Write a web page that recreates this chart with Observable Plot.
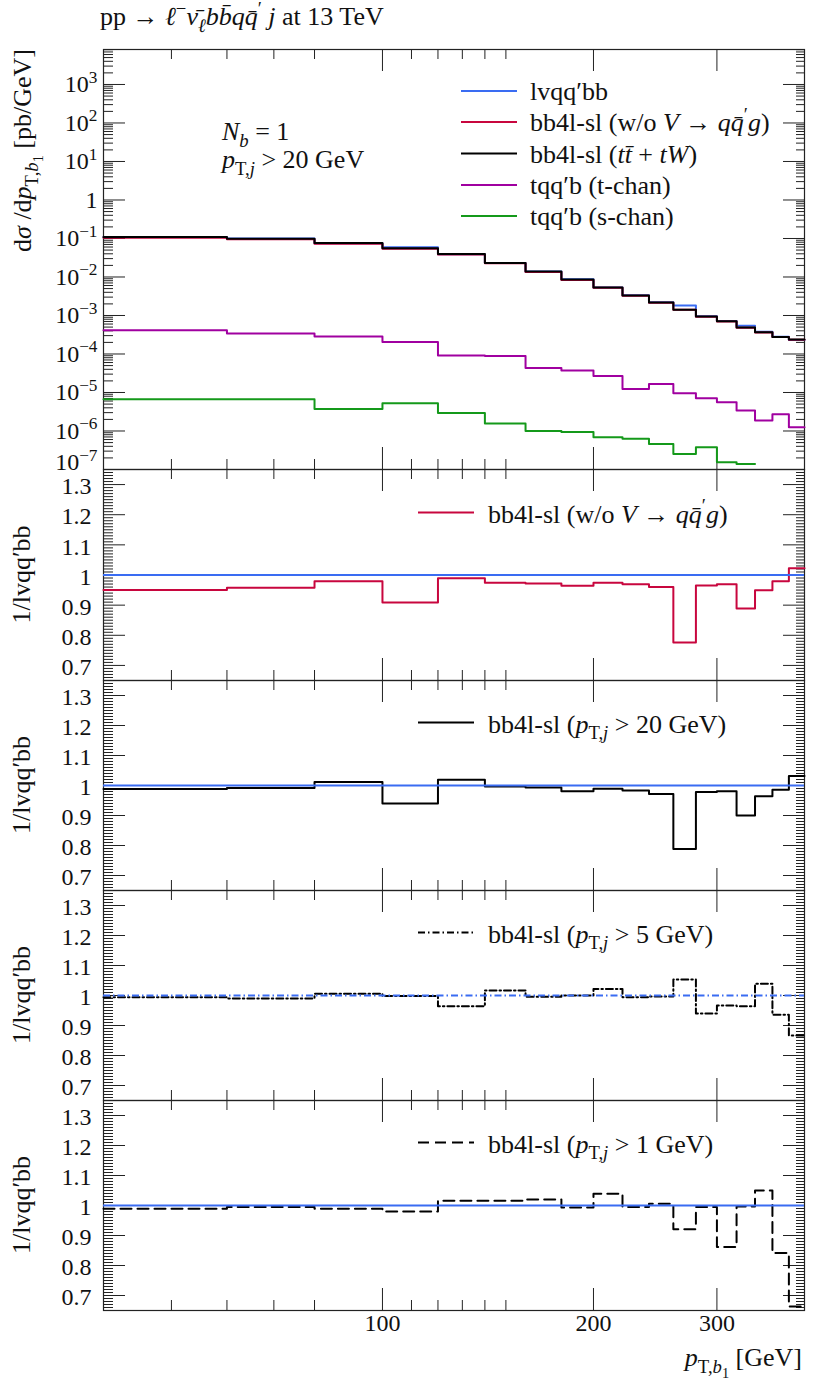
<!DOCTYPE html>
<html><head><meta charset="utf-8">
<script src="https://cdn.jsdelivr.net/npm/d3@7"></script>
<script src="https://cdn.jsdelivr.net/npm/@observablehq/plot@0.6"></script>
<style>
body{margin:0;background:#fff;}
#chart{position:relative;width:830px;height:1380px;font-family:"Liberation Serif",serif;}
#chart svg{position:absolute;left:0;overflow:visible;}
</style></head><body><div id="chart"></div>
<script>
// ---------------- data ----------------
const binEdges = [40,60,80,100,120,140,160,180,200,220,240,260,280,300,320,340,360,380,400];
const lvqqbb   = [0.110,0.0998,0.0751,0.0595,0.0388,0.0232,0.0139,0.00872,0.00536,0.00335,0.00222,0.00182,0.000956,0.00072,0.000542,0.00038,0.000281,0.00023];
const bb4lNoV  = [0.1045,0.0956,0.0735,0.0538,0.0384,0.0226,0.0135,0.00841,0.00522,0.00325,0.00213,0.0014,0.000923,0.000698,0.000479,0.000361,0.000275,0.000235];
const bb4lTtTW = [0.109,0.099,0.076,0.0556,0.0395,0.0231,0.0138,0.00855,0.0053,0.00329,0.00216,0.00142,0.000935,0.000706,0.000485,0.000366,0.000277,0.000237];
const tqqbT    = [4.13e-4,3.39e-4,2.83e-4,2.05e-4,9.1e-5,8.9e-5,4.33e-5,3.70e-5,2.69e-5,1.23e-5,1.66e-5,9.5e-6,7.1e-6,5.6e-6,3.4e-6,1.86e-6,2.72e-6,1.25e-6];
const tqqbS    = [6.65e-6,6.65e-6,3.73e-6,5.24e-6,2.94e-6,1.56e-6,1.0e-6,9.4e-7,6.86e-7,6.3e-7,4.57e-7,2.53e-7,3.77e-7,1.54e-7,1.39e-7,null,null,null];

const ratioNoV  = [0.950,0.958,0.979,0.909,0.989,0.974,0.972,0.964,0.974,0.969,0.960,0.776,0.965,0.969,0.889,0.949,0.979,1.022];
const ratioPt20 = [0.988,0.992,1.012,0.940,1.019,0.997,0.993,0.981,0.989,0.983,0.972,0.788,0.978,0.981,0.900,0.964,0.986,1.032];
const ratioPt5  = [0.994,0.990,1.006,0.998,0.964,1.017,0.996,1.000,1.022,0.994,0.997,1.053,0.940,0.967,0.964,1.039,0.936,0.867];
const ratioPt1  = [0.989,0.995,0.989,0.980,1.016,1.016,1.020,0.993,1.039,0.995,1.006,0.921,0.995,0.862,0.997,1.050,0.842,0.663];

const xMajorTicks = [100,200,300];
const xMinorTicks = [50,60,70,80,110,120,130,140,150];
const xTickLabels = ["100","200","300"];
const yLogMajor = [1e-7,1e-6,1e-5,1e-4,1e-3,1e-2,1e-1,1,1e1,1e2,1e3];
const yLogLabels = ["10^−7","10^−6","10^−5","10^−4","10^−3","10^−2","10^−1","1","10^1","10^2","10^3"];
const yRatioMajor = [0.7,0.8,0.9,1.0,1.1,1.2,1.3];
const yRatioLabels = ["0.7","0.8","0.9","1","1.1","1.2","1.3"];

// ---------------- style ----------------
const C = {blue:"#3a6cf2", red:"#c8063e", black:"#000", purple:"#a000a0", green:"#14991a"};
const FONT = "Liberation Serif";
const W = 830, ML = 103, MR = 26, FW = W - ML - MR;
const yLogTop = 8100;
const TXT = 26;

const yLogMinor = [];
for (let k = -7; k <= 3; k++) for (let m = 2; m <= 9; m++) { const v = m * 10 ** k; if (v <= yLogTop) yLogMinor.push(v); }
const yRatioMinor = d3.range(65, 136).map(d => d / 100).filter(v => !yRatioMajor.some(M => Math.abs(M - v) < 1e-9));

function steps(values) {
  const pts = []; let last = -1;
  values.forEach((v, i) => { if (v == null) return; pts.push({x: binEdges[i], y: v}); last = i; });
  pts.push({x: binEdges[last + 1], y: values[last]});
  return pts;
}

function tickMarks(FH, yMajor, yMinor) {
  const s = {stroke: "#222", strokeWidth: 1};
  return [
    Plot.tickX(xMinorTicks, {x: d => d, insetTop: FH - 10, ...s}),
    Plot.tickX(xMinorTicks, {x: d => d, insetBottom: FH - 10, ...s}),
    Plot.tickX(xMajorTicks, {x: d => d, insetTop: FH - 22, ...s}),
    Plot.tickX(xMajorTicks, {x: d => d, insetBottom: FH - 22, ...s}),
    Plot.tickY(yMajor, {y: d => d, insetRight: FW - 22, ...s}),
    Plot.tickY(yMajor, {y: d => d, insetLeft: FW - 21, ...s}),
    Plot.tickY(yMinor, {y: d => d, insetRight: FW - 10, ...s}),
    Plot.tickY(yMinor, {y: d => d, insetLeft: FW - 8, ...s}),
    Plot.frame({stroke: "#222", strokeWidth: 1.2})
  ];
}

const baseStyle = {fontFamily: FONT, fontSize: "23px", color: "#111", overflow: "visible", background: "transparent"};
const chart = document.getElementById("chart");

function place(svg, top) { svg.style.top = top + "px"; chart.appendChild(svg); return svg; }

// ---------------- top panel ----------------
const p1H = 469, p1MT = 49;
const p1 = Plot.plot({
  width: W, height: p1H, marginLeft: ML, marginRight: MR, marginTop: p1MT, marginBottom: 0,
  style: baseStyle,
  x: {type: "log", domain: [40, 400], axis: null},
  y: {type: "log", domain: [1e-7, yLogTop], axis: null},
  marks: [
    ...tickMarks(p1H - p1MT, yLogMajor, yLogMinor),
    Plot.line(steps(lvqqbb), {x: "x", y: "y", curve: "step-after", stroke: C.blue, strokeWidth: 2}),
    Plot.line(steps(bb4lNoV), {x: "x", y: "y", curve: "step-after", stroke: C.red, strokeWidth: 2}),
    Plot.line(steps(bb4lTtTW), {x: "x", y: "y", curve: "step-after", stroke: C.black, strokeWidth: 2}),
    Plot.line(steps(tqqbT), {x: "x", y: "y", curve: "step-after", stroke: C.purple, strokeWidth: 2}),
    Plot.line(steps(tqqbS), {x: "x", y: "y", curve: "step-after", stroke: C.green, strokeWidth: 2}),
    Plot.text(yLogMajor.slice(1), {y: d => d, frameAnchor: "left", dx: -6, textAnchor: "end", text: (d, i) => yLogLabels[i + 1], fontSize: 24}),
    Plot.text(yLogMajor.slice(0, 1), {y: d => d, frameAnchor: "left", dx: -6, dy: -7, textAnchor: "end", text: (d, i) => yLogLabels[i], fontSize: 24})
  ]
});
place(p1, 0);
// superscript exponents
d3.select(p1).selectAll("text").each(function() {
  const t = this.textContent;
  if (t.includes("^")) {
    const [b, e] = t.split("^");
    const sel = d3.select(this); sel.text("");
    sel.append("tspan").text(b);
    sel.append("tspan").attr("dy", "-0.55em").attr("font-size", "0.72em").text(e);
  }
});

// ---------------- ratio panels ----------------
function ratioPanel(top, H, values, dash, last) {
  const marks = [
    ...tickMarks(H, yRatioMajor, yRatioMinor),
    Plot.line(steps(values), {x: "x", y: "y", curve: "step-after", stroke: values.color, strokeWidth: 2, strokeDasharray: dash}),
    Plot.ruleY([1], {stroke: C.blue, strokeWidth: 2, strokeDasharray: values.blueDash}),
    Plot.text(yRatioMajor, {y: d => d, frameAnchor: "left", dx: -12, dy: 2, textAnchor: "end", text: (d, i) => yRatioLabels[i], fontSize: 24})
  ];
  if (last) marks.push(Plot.text(xMajorTicks, {x: d => d, frameAnchor: "bottom", dy: 20, text: (d, i) => xTickLabels[i], fontSize: 24}));
  const p = Plot.plot({
    width: W, height: H, marginLeft: ML, marginRight: MR, marginTop: 0, marginBottom: 0,
    style: baseStyle,
    x: {type: "log", domain: [40, 400], axis: null},
    y: {domain: [0.65, 1.35], axis: null},
    marks
  });
  return place(p, top);
}
ratioNoV.color = C.red;
ratioPt20.color = C.black;
ratioPt5.color = C.black; ratioPt5.blueDash = "7,3,1.5,3";
ratioPt1.color = C.black;
ratioPanel(469, 211, ratioNoV, null, false);
ratioPanel(680, 210, ratioPt20, null, false);
ratioPanel(890, 210, ratioPt5, "7,3,1.5,3", false);
ratioPanel(1100, 210, ratioPt1, "11,6", true);

// ---------------- overlay text ----------------
const ov = d3.select(chart).append("svg").attr("width", W).attr("height", 1380)
  .style("top", "0px").style("pointer-events", "none")
  .attr("font-family", FONT).attr("fill", "#111");

function rich(x, y, parts, {size = TXT, anchor = "start", rotate = 0} = {}) {
  const t = ov.append("text").attr("text-anchor", anchor).attr("font-size", size)
    .attr("transform", `translate(${x},${y}) rotate(${rotate})`);
  let cur = 0;
  for (const [txt, st = ""] of parts) {
    let off = 0, fs = size;
    if (st.includes("subsub")) { off = 0.45 * size; fs = 0.55 * size; }
    else if (st.includes("sub")) { off = 0.25 * size; fs = 0.72 * size; }
    else if (st.includes("sup")) { off = -0.4 * size; fs = 0.72 * size; }
    const sp = t.append("tspan").attr("font-size", fs).attr("dy", off - cur).text(txt);
    if (st.split(" ").includes("i")) sp.attr("font-style", "italic");
    cur = off;
  }
  return t;
}

// title
rich(100, 25, [["pp → "],["ℓ","i"],["−","sup"],["ν̄","i"],["ℓ","i sub"],["b","i"],["b̄","i"],["q","i"],["q̄","i"],["′","sup"],[" "],["j","i"],[" at 13 TeV"]]);
// y labels
rich(31, 49, [["d"],["σ","i"],[" /d"],["p","i"],["T,","sub"],["b","i sub"],["1","subsub"],[" [pb/GeV]"]], {anchor: "end", rotate: -90});
[574.5, 785, 995, 1205].forEach(cy => rich(30, cy, [["1/lvqq′bb"]], {anchor: "middle", rotate: -90}));
// annotations
rich(222, 140, [["N","i"],["b","i sub"],[" = 1"]]);
rich(222, 168, [["p","i"],["T,","sub"],["j","i sub"],[" > 20 GeV"]]);
// x title
rich(802, 1366, [["p","i"],["T,","sub"],["b","i sub"],["1","subsub"],[" [GeV]"]], {anchor: "end"});

// top legend
const legTop = [
  {c: C.blue, y: 91, parts: [["lvqq′bb"]]},
  {c: C.red, y: 122, parts: [["bb4l-sl (w/o "],["V","i"],[" → "],["q","i"],["q̄","i"],["′","sup"],["g","i"],[")"]]},
  {c: C.black, y: 153.5, parts: [["bb4l-sl ("],["t","i"],["t̄","i"],[" + "],["tW","i"],[")"]]},
  {c: C.purple, y: 185, parts: [["tqq′b (t-chan)"]]},
  {c: C.green, y: 216, parts: [["tqq′b (s-chan)"]]}
];
legTop.forEach(l => {
  ov.append("line").attr("x1", 461).attr("x2", 517).attr("y1", l.y).attr("y2", l.y).attr("stroke", l.c).attr("stroke-width", 2);
  rich(530, l.y + 9, l.parts);
});
// ratio legends
const legR = [
  {c: C.red, y: 512.5, dash: null, parts: [["bb4l-sl (w/o "],["V","i"],[" → "],["q","i"],["q̄","i"],["′","sup"],["g","i"],[")"]]},
  {c: C.black, y: 722.5, dash: null, parts: [["bb4l-sl ("],["p","i"],["T,","sub"],["j","i sub"],[" > 20 GeV)"]]},
  {c: C.black, y: 932.5, dash: "7,3,1.5,3", parts: [["bb4l-sl ("],["p","i"],["T,","sub"],["j","i sub"],[" > 5 GeV)"]]},
  {c: C.black, y: 1142.5, dash: "11,6", parts: [["bb4l-sl ("],["p","i"],["T,","sub"],["j","i sub"],[" > 1 GeV)"]]}
];
legR.forEach(l => {
  ov.append("line").attr("x1", 418).attr("x2", 474).attr("y1", l.y).attr("y2", l.y).attr("stroke", l.c).attr("stroke-width", 2).attr("stroke-dasharray", l.dash);
  rich(488, l.y + 10, l.parts);
});
</script></body></html>
